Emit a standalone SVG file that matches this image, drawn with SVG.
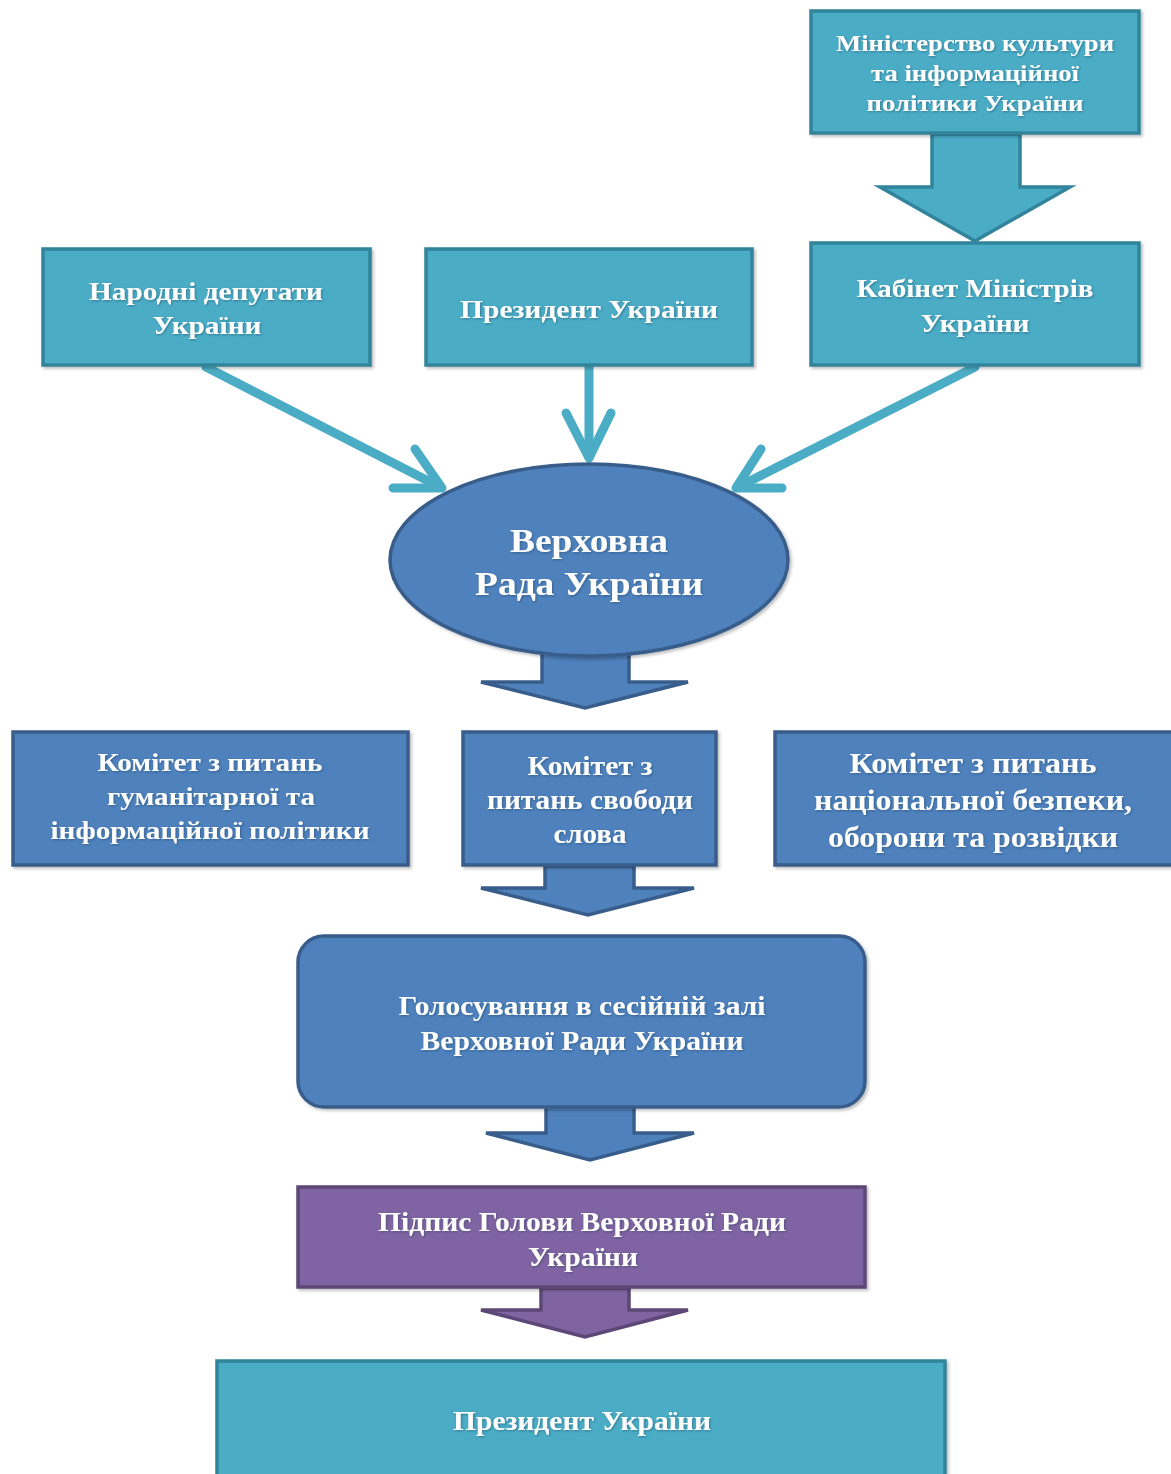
<svg xmlns="http://www.w3.org/2000/svg" width="1171" height="1474" viewBox="0 0 1171 1474">
<defs>
<filter id="sh" x="-5%" y="-5%" width="115%" height="120%">
<feDropShadow dx="2" dy="2" stdDeviation="1.5" flood-color="#000" flood-opacity="0.25"/>
</filter>
<filter id="tsh" x="-5%" y="-20%" width="110%" height="140%">
<feDropShadow dx="1" dy="1" stdDeviation="0.8" flood-color="#1a3a50" flood-opacity="0.45"/>
</filter>
</defs>
<style>
.teal{fill:#4BACC6;stroke:#31849B;stroke-width:3.5}
.blue{fill:#4F81BD;stroke:#385D8A;stroke-width:3.5}
.purple{fill:#8064A2;stroke:#5C4776;stroke-width:3.5}
.t{font-family:"Liberation Serif","Times New Roman",serif;font-weight:bold;fill:#ffffff;text-anchor:middle}
.line{fill:none;stroke:#4BACC6;stroke-width:9;stroke-linecap:round;stroke-linejoin:round}
</style>
<rect width="1171" height="1474" fill="#ffffff"/>

<g id="connectors">
<path class="teal" d="M932,134 L1020,134 L1020,187 L1070,187 L975,241 L880,187 L932,187 Z"/>
<path class="line" d="M206,367 L440,487"/>
<path class="line" d="M393,488 L442,488 L415,449"/>
<path class="line" d="M589,367 L589,457"/>
<path class="line" d="M566,413 L589,458 L611,413"/>
<path class="line" d="M975,367 L738,487"/>
<path class="line" d="M782,488 L736,488 L761,449"/>
<path class="blue" d="M542,650 L629,650 L629,682 L688,682 L585,708 L481,682 L542,682 Z"/>
<path class="blue" d="M545,866 L634,866 L634,888 L694,888 L588,915 L481,888 L545,888 Z"/>
<path class="blue" d="M546,1106 L634,1106 L634,1133 L694,1133 L590,1160 L486,1133 L546,1133 Z"/>
<path class="purple" d="M541,1288 L629,1288 L629,1310 L688,1310 L585,1337 L481,1310 L541,1310 Z"/>
</g>

<g id="n-ministry" filter="url(#sh)">
<rect class="teal" x="811" y="11" width="328" height="122"/>
<g filter="url(#tsh)">
<text class="t" x="975" y="51" font-size="24" textLength="278" lengthAdjust="spacingAndGlyphs">Міністерство культури</text>
<text class="t" x="975" y="81" font-size="24" textLength="208" lengthAdjust="spacingAndGlyphs">та інформаційної</text>
<text class="t" x="975" y="111" font-size="24" textLength="217" lengthAdjust="spacingAndGlyphs">політики України</text>
</g>
</g>

<g id="n-deputies" filter="url(#sh)">
<rect class="teal" x="43" y="249" width="327" height="116"/>
<g filter="url(#tsh)">
<text class="t" x="206" y="300" font-size="26" textLength="234" lengthAdjust="spacingAndGlyphs">Народні депутати</text>
<text class="t" x="207" y="334" font-size="26" textLength="109" lengthAdjust="spacingAndGlyphs">України</text>
</g>
</g>

<g id="n-president1" filter="url(#sh)">
<rect class="teal" x="426" y="249" width="326" height="116"/>
<g filter="url(#tsh)">
<text class="t" x="589" y="318" font-size="26" textLength="258" lengthAdjust="spacingAndGlyphs">Президент України</text>
</g>
</g>

<g id="n-cabinet" filter="url(#sh)">
<rect class="teal" x="811" y="243" width="328" height="122"/>
<g filter="url(#tsh)">
<text class="t" x="975" y="297" font-size="26" textLength="237" lengthAdjust="spacingAndGlyphs">Кабінет Міністрів</text>
<text class="t" x="975" y="332" font-size="26" textLength="109" lengthAdjust="spacingAndGlyphs">України</text>
</g>
</g>

<g id="n-rada" filter="url(#sh)">
<ellipse class="blue" cx="589" cy="560" rx="199" ry="96"/>
<g filter="url(#tsh)">
<text class="t" x="589" y="552" font-size="33" textLength="158" lengthAdjust="spacingAndGlyphs">Верховна</text>
<text class="t" x="589" y="595" font-size="33" textLength="228" lengthAdjust="spacingAndGlyphs">Рада України</text>
</g>
</g>

<g id="n-com1" filter="url(#sh)">
<rect class="blue" x="13" y="732" width="395" height="133"/>
<g filter="url(#tsh)">
<text class="t" x="210" y="771" font-size="26" textLength="225" lengthAdjust="spacingAndGlyphs">Комітет з питань</text>
<text class="t" x="211" y="805" font-size="26" textLength="208" lengthAdjust="spacingAndGlyphs">гуманітарної та</text>
<text class="t" x="210" y="839" font-size="26" textLength="319" lengthAdjust="spacingAndGlyphs">інформаційної політики</text>
</g>
</g>

<g id="n-com2" filter="url(#sh)">
<rect class="blue" x="463" y="732" width="253" height="133"/>
<g filter="url(#tsh)">
<text class="t" x="590" y="775" font-size="27" textLength="125" lengthAdjust="spacingAndGlyphs">Комітет з</text>
<text class="t" x="590" y="809" font-size="27" textLength="206" lengthAdjust="spacingAndGlyphs">питань свободи</text>
<text class="t" x="590" y="843" font-size="27" textLength="73" lengthAdjust="spacingAndGlyphs">слова</text>
</g>
</g>

<g id="n-com3" filter="url(#sh)">
<rect class="blue" x="775" y="732" width="400" height="133"/>
<g filter="url(#tsh)">
<text class="t" x="973" y="773" font-size="29" textLength="247" lengthAdjust="spacingAndGlyphs">Комітет з питань</text>
<text class="t" x="973" y="810" font-size="29" textLength="318" lengthAdjust="spacingAndGlyphs">національної безпеки,</text>
<text class="t" x="973" y="847" font-size="29" textLength="290" lengthAdjust="spacingAndGlyphs">оборони та розвідки</text>
</g>
</g>

<g id="n-vote" filter="url(#sh)">
<rect class="blue" x="298" y="936" width="567" height="171" rx="26" ry="26"/>
<g filter="url(#tsh)">
<text class="t" x="582" y="1015" font-size="27" textLength="367" lengthAdjust="spacingAndGlyphs">Голосування в сесійній залі</text>
<text class="t" x="582" y="1050" font-size="27" textLength="323" lengthAdjust="spacingAndGlyphs">Верховної Ради України</text>
</g>
</g>

<g id="n-sign" filter="url(#sh)">
<rect class="purple" x="298" y="1187" width="567" height="100"/>
<g filter="url(#tsh)">
<text class="t" x="582" y="1231" font-size="27" textLength="408" lengthAdjust="spacingAndGlyphs">Підпис Голови Верховної Ради</text>
<text class="t" x="583" y="1266" font-size="27" textLength="110" lengthAdjust="spacingAndGlyphs">України</text>
</g>
</g>

<g id="n-president2" filter="url(#sh)">
<rect class="teal" x="217" y="1361" width="728" height="130"/>
<g filter="url(#tsh)">
<text class="t" x="582" y="1430" font-size="27" textLength="258" lengthAdjust="spacingAndGlyphs">Президент України</text>
</g>
</g>
</svg>
